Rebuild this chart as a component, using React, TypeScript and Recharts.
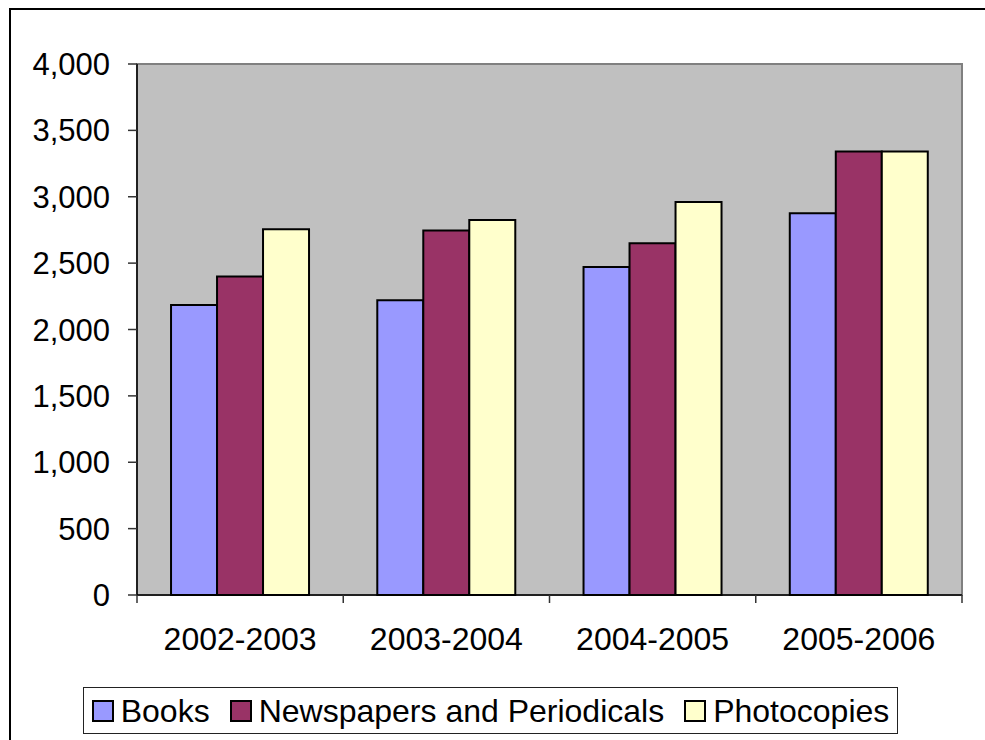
import React from "react";
import { BarChart, Bar, XAxis, YAxis, Legend, ReferenceArea } from "recharts";

const periods = ["2002-2003", "2003-2004", "2004-2005", "2005-2006"];
const books = [2185, 2220, 2470, 2875];
const newspapers = [2400, 2745, 2650, 3340];
const photocopies = [2755, 2825, 2960, 3340];
const yTicks = [0, 500, 1000, 1500, 2000, 2500, 3000, 3500, 4000];

const seriesNames = ["Books", "Newspapers and Periodicals", "Photocopies"];
const seriesColors = ["#9999FF", "#993366", "#FFFFCC"];

const data = periods.map((p, i) => ({
  period: p,
  books: books[i],
  newspapers: newspapers[i],
  photocopies: photocopies[i],
}));

const FONT = "Arial, 'Liberation Sans', sans-serif";
const TICK_SIZE = 8;
const TICK_MARGIN = 24;

const CatTick = (props: any) => {
  const { x, y, payload, index } = props;
  const off = payload && typeof payload.offset === "number" ? payload.offset : 0;
  const y1 = y - TICK_MARGIN - TICK_SIZE;
  const y2 = y - TICK_MARGIN;
  return (
    <g>
      <line x1={x - off} x2={x - off} y1={y1} y2={y2} stroke="#333" strokeWidth={1.5} />
      {index === periods.length - 1 && (
        <line x1={x + off} x2={x + off} y1={y1} y2={y2} stroke="#333" strokeWidth={1.5} />
      )}
      <text x={x} y={y} dy="0.71em" textAnchor="middle" fill="#000" fontSize={32} fontFamily={FONT}>
        {payload.value}
      </text>
    </g>
  );
};

const LegendContent = () => (
  <div
    style={{
      boxSizing: "border-box",
      width: "100%",
      height: "100%",
      border: "1.5px solid #222",
      display: "flex",
      alignItems: "center",
      justifyContent: "center",
      fontFamily: FONT,
      fontSize: 32,
      color: "#000",
      background: "#fff",
    }}
  >
    {seriesNames.map((n, i) => (
      <div key={n} style={{ display: "flex", alignItems: "center", marginRight: i < seriesNames.length - 1 ? 20 : 0 }}>
        <div
          style={{
            boxSizing: "border-box",
            width: 22,
            height: 22,
            background: seriesColors[i],
            border: "2px solid #000",
            marginRight: 7,
          }}
        />
        <span style={{ lineHeight: "32px" }}>{n}</span>
      </div>
    ))}
  </div>
);

export default function App() {
  return (
    <div style={{ position: "fixed", left: 8, top: 8, width: 977, height: 732, overflow: "hidden", background: "#fff" }}>
      <BarChart
        width={977}
        height={732}
        data={data}
        margin={{ top: 56, right: 23, bottom: 6, left: 0 }}
        barGap={0}
        barCategoryGap="16.5%"
      >
        <ReferenceArea y1={0} y2={4000} fill="#C0C0C0" fillOpacity={1} stroke="#808080" strokeWidth={2} ifOverflow="visible" />
        <XAxis
          dataKey="period"
          height={92}
          tickSize={TICK_SIZE}
          tickMargin={TICK_MARGIN}
          tickLine={false}
          axisLine={{ stroke: "#000", strokeWidth: 1.5 }}
          tick={<CatTick />}
          interval={0}
        />
        <YAxis
          width={129}
          domain={[0, 4000]}
          ticks={yTicks}
          tickSize={9}
          tickMargin={18}
          tickFormatter={(v: number) => v.toLocaleString("en-US")}
          tick={{ fill: "#000", fontSize: 31, fontFamily: FONT }}
          tickLine={{ stroke: "#333", strokeWidth: 1.5 }}
          axisLine={{ stroke: "#000", strokeWidth: 1.5 }}
          interval={0}
        />
        <Legend
          content={<LegendContent />}
          verticalAlign="bottom"
          wrapperStyle={{ left: 75, width: 815, height: 47, bottom: 6 }}
        />
        <Bar dataKey="books" name={seriesNames[0]} fill={seriesColors[0]} stroke="#000" strokeWidth={2} isAnimationActive={false} />
        <Bar dataKey="newspapers" name={seriesNames[1]} fill={seriesColors[1]} stroke="#000" strokeWidth={2} isAnimationActive={false} />
        <Bar dataKey="photocopies" name={seriesNames[2]} fill={seriesColors[2]} stroke="#000" strokeWidth={2} isAnimationActive={false} />
      </BarChart>
      <div style={{ position: "absolute", left: 1, top: 0, width: 976, height: 2, background: "#000", pointerEvents: "none" }} />
      <div style={{ position: "absolute", left: 1, top: 0, width: 2, height: 732, background: "#000", pointerEvents: "none" }} />
    </div>
  );
}
